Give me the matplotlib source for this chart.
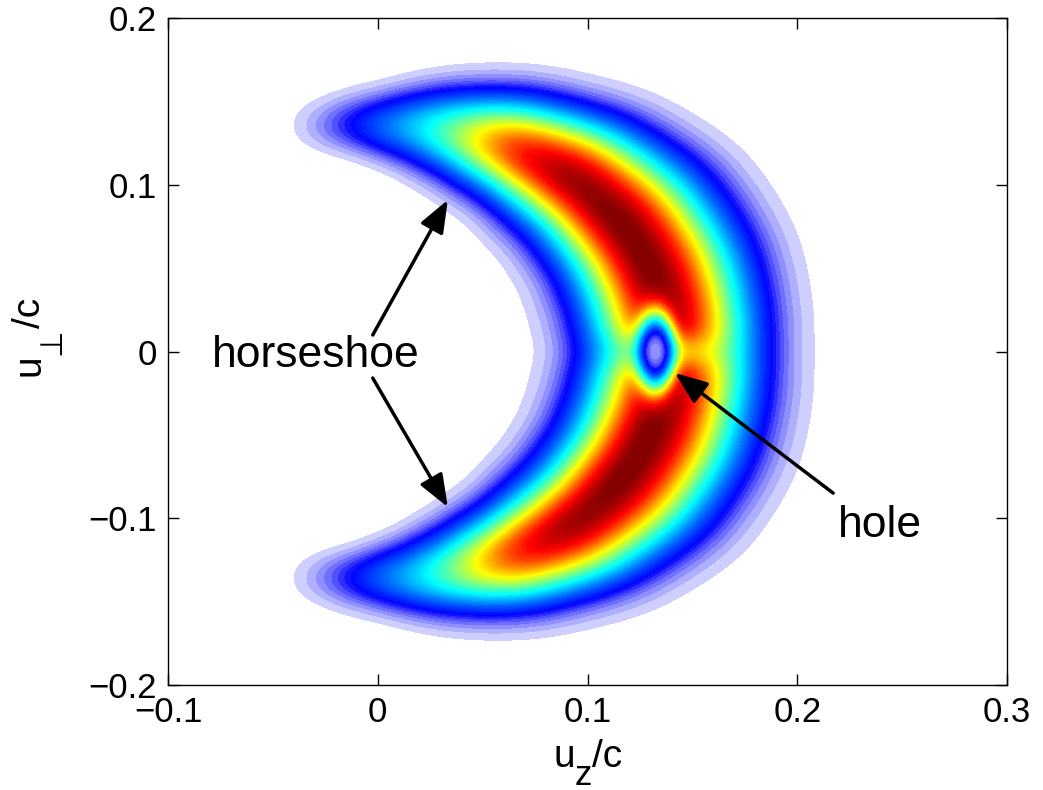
import numpy as np
import matplotlib
matplotlib.use("Agg")
import matplotlib.pyplot as plt
from matplotlib.colors import LinearSegmentedColormap

# shell (deg from +u_z axis)
theta_amp = [0, 10, 20, 35, 50, 58, 64, 70, 80, 90, 97, 103, 107, 112]
amp = [0.95, 0.99, 1.0, 1.0, 0.96, 0.88, 0.78, 0.62, 0.37, 0.21, 0.11, 0.045, 0.0156, 0.002]
ridge_r = [0.140, 0.139, 0.139, 0.139, 0.139, 0.138, 0.138, 0.137, 0.136, 0.135, 0.136, 0.137, 0.138, 0.139]

theta_w = [0, 20, 35, 50, 60, 70, 80, 90, 100, 110]
width_in = [0.0228, 0.0224, 0.0215, 0.0202, 0.0184, 0.0170, 0.0150, 0.0118, 0.0100, 0.0096]
width_out = [0.0236, 0.0254, 0.0254, 0.0224, 0.0196, 0.0174, 0.0150, 0.0120, 0.0106, 0.0100]
edge_power = 2.05

# notch along u_perp = 0 and the hole
dip_depth, dip_x, dip_sx, dip_sy = 0.28, 0.137, 0.018, 0.0085
hole_depth, hole_x, hole_r, hole_aspect = 0.92, 0.1325, 0.0102, 2.5

n_levels = 64
xticks = [-0.1, 0, 0.1, 0.2, 0.3]
yticks = [-0.2, -0.1, 0, 0.1, 0.2]

W_PX, H_PX = 1043, 790

plt.rcParams['font.family'] = ['Liberation Sans', 'DejaVu Sans']
plt.rcParams['axes.unicode_minus'] = True


def smooth_table(nodes, vals, log=False):
    th = np.arange(-30, 181, 0.5)
    v = np.interp(np.abs(th), nodes, np.log(vals) if log else vals)
    k = np.exp(-0.5 * (np.arange(-12, 13) / 5.0) ** 2)
    k /= k.sum()
    v = np.convolve(np.pad(v, 12, mode='edge'), k, mode='valid')
    return th, v


def field(X, Y):
    R = np.hypot(X, Y)
    TH = np.degrees(np.arctan2(np.abs(Y), X))
    th, la = smooth_table(theta_amp, amp, log=True)
    A = np.exp(np.interp(TH, th, la))
    th, rr = smooth_table(theta_amp, ridge_r)
    R0 = np.interp(TH, th, rr)
    th, wi = smooth_table(theta_w, width_in)
    th, wo = smooth_table(theta_w, width_out)
    W = np.where(R < R0, np.interp(TH, th, wi), np.interp(TH, th, wo))
    # same edge as a gaussian of width W, slightly sharper tail
    s = np.abs(R - R0) / W
    ln_edge = np.log(A / (1.0 / n_levels)).clip(1e-3)
    g = 0.5 * s ** 2
    g = ln_edge * (g / ln_edge) ** (edge_power / 2)
    F = A * np.exp(-g)
    F *= 1 - dip_depth * np.exp(-0.5 * ((X - dip_x) / dip_sx) ** 2 - 0.5 * (Y / dip_sy) ** 2)
    rho = np.hypot(X - hole_x, Y / hole_aspect)
    F *= 1 - hole_depth * np.exp(-(rho / hole_r) ** 3)
    return F


cmap = LinearSegmentedColormap.from_list('shoe', [
    (0.0, (0.87, 0.87, 1.0)),
    (0.111, (0.0, 0.0, 1.0)),
    (0.365, (0.0, 1.0, 1.0)),
    (0.619, (1.0, 1.0, 0.0)),
    (0.873, (1.0, 0.0, 0.0)),
    (1.0, (0.5, 0.0, 0.0)),
])
cmap.set_over((0.5, 0.0, 0.0))

x = np.linspace(-0.1, 0.3, 1000)
y = np.linspace(-0.2, 0.2, 1000)
X, Y = np.meshgrid(x, y)
F = field(X, Y)

fig = plt.figure(figsize=(W_PX / 100, H_PX / 100), dpi=100)
ax = fig.add_axes([0.1611, 0.1329, 0.8044, 0.8443])
levels = np.linspace(1.0 / n_levels, 1.0, n_levels)
ax.contourf(X, Y, F, levels=levels, cmap=cmap, extend='max')

ax.set_xlim(-0.1, 0.3)
ax.set_ylim(-0.2, 0.2)
ax.set_xticks(xticks)
ax.set_yticks(yticks)
ax.set_xticklabels(['\u22120.1', '0', '0.1', '0.2', '0.3'])
ax.set_yticklabels(['\u22120.2', '\u22120.1', '0', '0.1', '0.2'])
ax.tick_params(direction='in', length=8, width=1, top=True, right=True,
               labelsize=25, pad=8)
for s in ax.spines.values():
    s.set_linewidth(1.0)

arrow = dict(arrowstyle='-|>,head_length=0.9,head_width=0.35', lw=2.5,
             color='k', shrinkA=0, shrinkB=0, mutation_scale=22)
ax.annotate('', xy=(0.0334, 0.0909), xytext=(-0.0024, 0.0099), arrowprops=arrow)
ax.annotate('', xy=(0.0334, -0.0933), xytext=(-0.0024, -0.0159), arrowprops=arrow)
ax.annotate('', xy=(0.1417, -0.0129), xytext=(0.2171, -0.0849), arrowprops=arrow)

ax.text(-0.0296, -0.0093, 'horseshoe', fontsize=32, ha='center', va='baseline')
ax.text(0.2395, -0.1112, 'hole', fontsize=32, ha='center', va='baseline')

# axis labels built piece by piece: MATLAB subscripts are nearly full size
renderer = fig.canvas.get_renderer()


def text_width(s, size):
    t = fig.text(0, 0, s, fontsize=size)
    w = t.get_window_extent(renderer).width
    t.remove()
    return w


def label(pieces, centre, baseline, vertical=False):
    total = sum(text_width(s, size) for s, size, drop in pieces)
    cur = centre - total / 2
    for s, size, drop in pieces:
        if vertical:
            fig.text((baseline + drop) / W_PX, cur / H_PX, s, fontsize=size,
                     rotation=90, rotation_mode='anchor', ha='left', va='baseline')
        else:
            fig.text(cur / W_PX, 1 - (baseline + drop) / H_PX, s, fontsize=size,
                     ha='left', va='baseline')
        cur += text_width(s, size)


label([('u', 28, 0), ('z', 25, 18), ('/c', 28, 0)], 588, 767)
label([('u', 28, 0), ('\u22a5', 22, 20), ('/c', 28, 0)], H_PX - 337, 40, vertical=True)

fig.savefig('out.png', dpi=100)
